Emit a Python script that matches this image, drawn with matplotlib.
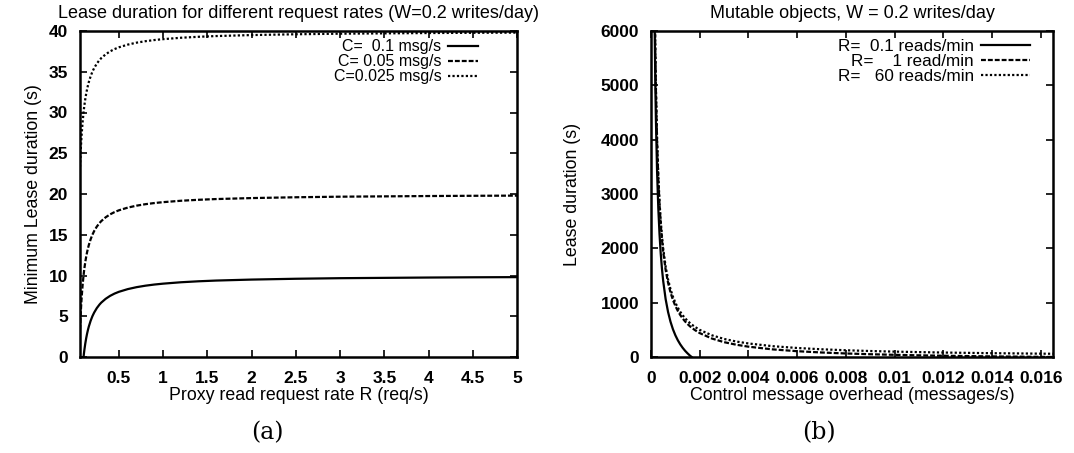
import numpy as np
import matplotlib
matplotlib.use("Agg")
import matplotlib.pyplot as plt
from matplotlib.ticker import MultipleLocator, FuncFormatter

plt.rcParams['font.family'] = ['Liberation Sans', 'DejaVu Sans']

nan = np.nan

# (a) minimum lease duration vs proxy read request rate
r_a = [0.06, 0.065, 0.07, 0.075, 0.08, 0.09, 0.1, 0.105, 0.11, 0.12, 0.13, 0.14, 0.15, 0.16,
       0.18, 0.2, 0.22, 0.25, 0.28, 0.3, 0.35, 0.4, 0.45, 0.5, 0.6, 0.7, 0.8, 0.9, 1.0,
       1.2, 1.4, 1.6, 1.8, 2.0, 2.5, 3.0, 3.5, 4.0, 4.5, 5.0]
lease_c010 = [nan, nan, nan, nan, nan, nan, 0, 0.48, 0.91, 1.67, 2.31, 2.86, 3.33, 3.75,
              4.44, 5, 5.45, 6, 6.43, 6.67, 7.14, 7.5, 7.78, 8, 8.33, 8.57, 8.75, 8.89, 9,
              9.17, 9.29, 9.38, 9.44, 9.5, 9.6, 9.67, 9.71, 9.75, 9.78, 9.8]
lease_c005 = [3.33, 4.62, 5.71, 6.67, 7.5, 8.89, 10, 10.48, 10.91, 11.67, 12.31, 12.86, 13.33, 13.75,
              14.44, 15, 15.45, 16, 16.43, 16.67, 17.14, 17.5, 17.78, 18, 18.33, 18.57, 18.75, 18.89, 19,
              19.17, 19.29, 19.38, 19.44, 19.5, 19.6, 19.67, 19.71, 19.75, 19.78, 19.8]
lease_c0025 = [23.33, 24.62, 25.71, 26.67, 27.5, 28.89, 30, 30.48, 30.91, 31.67, 32.31, 32.86, 33.33, 33.75,
               34.44, 35, 35.45, 36, 36.43, 36.67, 37.14, 37.5, 37.78, 38, 38.33, 38.57, 38.75, 38.89, 39,
               39.17, 39.29, 39.38, 39.44, 39.5, 39.6, 39.67, 39.71, 39.75, 39.78, 39.8]
labels_a = ["C=  0.1 msg/s", "C= 0.05 msg/s", "C=0.025 msg/s"]

# (b) lease duration vs control message overhead
c_b = [0.00015, 0.00018, 0.0002, 0.00025, 0.0003, 0.00035, 0.0004, 0.00045, 0.0005, 0.0006,
       0.0007, 0.0008, 0.0009, 0.001, 0.0011, 0.0012, 0.0013, 0.0014, 0.0015, 0.0016,
       0.00167, 0.0018, 0.002, 0.0025, 0.003, 0.0035, 0.004, 0.005, 0.006, 0.007,
       0.008, 0.009, 0.01, 0.011, 0.012, 0.013, 0.014, 0.015, 0.016, 0.0165]
lease_r01 = [6067, 4956, 4400, 3400, 2733, 2257, 1900, 1622, 1400, 1067,
             829, 650, 511, 400, 309, 233, 169, 114, 67, 25,
             0, nan, nan, nan, nan, nan, nan, nan, nan, nan,
             nan, nan, nan, nan, nan, nan, nan, nan, nan, nan]
lease_r1 = [6607, 5496, 4940, 3940, 3273, 2797, 2440, 2162, 1940, 1607,
            1369, 1190, 1051, 940, 849, 773, 709, 654, 607, 565,
            539, 496, 440, 340, 273, 226, 190, 140, 107, 83,
            65, 51, 40, 31, 23, 17, 11, 7, 2.5, 0.6]
lease_r60 = [6666, 5555, 4999, 3999, 3332, 2856, 2499, 2221, 1999, 1666,
             1428, 1249, 1110, 999, 908, 832, 768, 713, 666, 624,
             598, 555, 499, 399, 332, 285, 249, 199, 166, 142,
             124, 110, 99, 90, 82, 76, 70, 66, 61.5, 59.6]
labels_b = ["R=  0.1 reads/min", "R=    1 read/min", "R=   60 reads/min"]

styles = ['-', (0, (2.2, 0.9)), (0, (1, 1))]

fig = plt.figure(figsize=(10.74, 4.53), dpi=100)
ax1 = fig.add_axes([80 / 1074, 96 / 453, 437 / 1074, 326 / 453])
ax2 = fig.add_axes([651 / 1074, 96 / 453, 402 / 1074, 326 / 453])

for y, lab, ls in zip([lease_c010, lease_c005, lease_c0025], labels_a, styles):
    ax1.plot(r_a, y, color='black', linestyle=ls, linewidth=1.6, label=lab)
ax1.set_xlim(0.06, 5)
ax1.set_ylim(0, 40)
ax1.xaxis.set_major_locator(MultipleLocator(0.5))
ax1.yaxis.set_major_locator(MultipleLocator(5))
ax1.set_title("Lease duration for different request rates (W=0.2 writes/day)",
              fontsize=13, pad=9)
ax1.set_xlabel("Proxy read request rate R (req/s)", fontsize=12.8, labelpad=1)
ax1.set_ylabel("Minimum Lease duration (s)", fontsize=12.8, labelpad=5)

for y, lab, ls in zip([lease_r01, lease_r1, lease_r60], labels_b, styles):
    ax2.plot(c_b, y, color='black', linestyle=ls, linewidth=1.6, label=lab)
ax2.set_xlim(0, 0.0165)
ax2.set_ylim(0, 6000)
ax2.xaxis.set_major_locator(MultipleLocator(0.002))
ax2.yaxis.set_major_locator(MultipleLocator(1000))
ax2.set_title("Mutable objects, W = 0.2 writes/day", fontsize=13, pad=9)
ax2.set_xlabel("Control message overhead (messages/s)", fontsize=12.8, labelpad=1)
ax2.set_ylabel("Lease duration (s)", fontsize=12.8, labelpad=14)

fmt = FuncFormatter(lambda v, p: "%g" % round(v, 6))
legend_opts = [(ax1, (0.911, 0.975), 11.5, 1.9), (ax2, (0.943, 0.975), 12.3, 2.9)]
for ax, anchor, fs, hl in legend_opts:
    ax.xaxis.set_major_formatter(fmt)
    ax.tick_params(direction='in', top=True, right=True, length=5, width=1.2,
                   labelsize=12.5)
    ax.tick_params(axis='x', pad=10)
    ax.tick_params(axis='y', pad=8.5)
    for t in ax.get_xticklabels() + ax.get_yticklabels():
        t.set_fontweight('bold')
    for s in ax.spines.values():
        s.set_linewidth(1.8)
    leg = ax.legend(loc='upper right', bbox_to_anchor=anchor, frameon=False,
                    markerfirst=False, fontsize=fs, handlelength=hl,
                    handletextpad=0.4, labelspacing=0.0, borderpad=0,
                    borderaxespad=0)
    for vp in leg._legend_handle_box.get_children():
        vp.align = 'right'

fig.text(267 / 1074, 1 - 433 / 453, "(a)", family='DejaVu Serif', fontsize=17,
         ha='center', va='center')
fig.text(819 / 1074, 1 - 433 / 453, "(b)", family='DejaVu Serif', fontsize=17,
         ha='center', va='center')

fig.savefig("out.png", dpi=100)
